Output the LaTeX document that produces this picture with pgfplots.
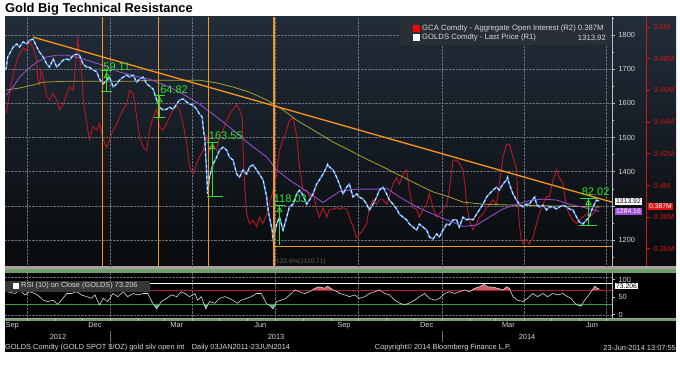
\documentclass[border=0pt]{standalone}
\usepackage{fontspec}
\setmainfont{Liberation Sans}
\usepackage{pgfplots}
\usepackage{pgfplotstable}
\pgfplotsset{compat=1.18}
\definecolor{bgtop}{RGB}{34,45,58}
\definecolor{bgbot}{RGB}{8,10,12}
\definecolor{gridc}{RGB}{105,112,120}
\definecolor{oicol}{RGB}{185,25,35}
\definecolor{pxblue}{RGB}{70,140,225}
\definecolor{pxwhite}{RGB}{230,235,245}
\definecolor{ma1}{RGB}{150,75,200}
\definecolor{ma2}{RGB}{165,160,55}
\definecolor{tlor}{RGB}{245,150,30}
\definecolor{ann}{RGB}{50,225,50}
\definecolor{lbl}{RGB}{215,215,215}
\definecolor{axisgray}{RGB}{190,190,190}
\definecolor{sepgray}{RGB}{170,160,160}
\definecolor{sepgreen}{RGB}{110,160,110}
\definecolor{rsired}{RGB}{170,30,40}
\definecolor{rsigreen}{RGB}{50,160,60}
\definecolor{rsifillg}{RGB}{90,180,120}
\definecolor{rsifillr}{RGB}{200,90,100}
\definecolor{rsiline}{RGB}{215,220,215}
\definecolor{legbg}{RGB}{42,47,55}
\definecolor{rsilegbg}{RGB}{55,55,55}
\definecolor{tagred}{RGB}{225,20,20}
\definecolor{tagpurple}{RGB}{160,80,210}
\definecolor{scalered}{RGB}{210,20,20}
\newcommand{\sm}{\fontsize{7.4}{8.5}\selectfont}
\newcommand{\tgf}{\fontsize{6.8}{7.5}\selectfont}
\newcommand{\legf}{\fontsize{7.7}{8.5}\selectfont}
\newcommand{\lab}{\fontsize{11}{12}\selectfont}
\pgfplotsset{bb/.style={anchor=south west, scale only axis, width=607pt, xmin=-116, xmax=552}}
\pgfplotstableread{
d r
-113 65
-105 60
-100 70
-94 56
-89 65
-83 60
-78 51
-74 41
-69 37
-63 41
-58 29
-54 41
-48 60
-43 60
-37 65
-32 56
-26 51
-21 46
-17 56
-12 27
-8 46
-3 37
3 60
8 51
14 65
19 51
25 60
30 56
36 60
41 60
47 30
51 16
56 37
62 46
67 56
73 51
78 65
82 60
87 51
93 60
96 41
100 51
105 16
109 37
115 32
120 46
126 51
131 46
137 37
140 32
144 41
150 46
155 51
161 60
166 60
172 30
176 25
179 16
183 37
188 41
193 46
199 60
203 70
208 65
214 60
219 65
225 75
230 79
236 75
239 81
245 70
250 65
252 60
258 56
263 51
269 56
274 46
280 51
285 60
291 65
296 70
302 60
307 56
313 41
318 33
324 27
329 33
335 41
340 51
346 60
351 46
357 41
362 46
368 60
373 65
379 60
384 65
390 70
395 65
401 75
406 79
411 86
415 79
421 78
426 75
432 70
436 79
439 75
443 51
448 41
454 37
459 46
465 60
470 51
476 60
481 51
487 60
492 56
498 60
503 51
507 46
511 32
514 27
518 24
521 37
525 51
529 65
533 81
536 75
538 73
}\rsitable
\pgfplotstableread{
d p
-115 1698
-113 1736
-107 1765
-103 1774
-100 1765
-96 1780
-92 1774
-89 1785
-85 1788
-81 1765
-78 1750
-74 1736
-70 1715
-67 1706
-63 1730
-59 1706
-56 1715
-52 1727
-48 1730
-45 1727
-41 1741
-37 1744
-34 1741
-30 1715
-26 1706
-23 1706
-19 1698
-15 1692
-12 1671
-8 1657
-4 1668
-1 1677
3 1648
7 1657
10 1668
14 1677
18 1683
21 1677
25 1683
29 1662
32 1671
36 1677
40 1657
43 1651
47 1642
51 1610
54 1589
58 1581
62 1583
65 1589
69 1583
73 1598
76 1610
80 1613
84 1604
87 1598
91 1595
95 1583
98 1569
101 1560
102 1531
104 1493
106 1393
107 1335
109 1384
113 1422
117 1443
120 1463
124 1472
128 1463
131 1443
135 1434
139 1393
142 1384
146 1405
150 1393
153 1414
157 1420
161 1405
164 1393
168 1376
172 1326
173 1297
175 1267
178 1229
179 1203
183 1247
186 1267
190 1229
194 1267
197 1297
201 1305
205 1335
208 1346
212 1332
216 1305
219 1317
223 1335
227 1364
230 1376
234 1393
238 1414
239 1422
241 1414
245 1405
249 1384
252 1364
256 1335
260 1355
263 1364
267 1326
271 1335
274 1326
278 1320
282 1305
285 1288
289 1305
293 1326
296 1346
300 1355
304 1335
307 1317
311 1305
315 1291
318 1276
322 1267
326 1259
329 1247
333 1238
337 1229
340 1247
344 1238
348 1229
351 1209
355 1203
359 1218
362 1209
366 1229
370 1247
373 1244
377 1259
381 1259
384 1238
388 1267
392 1259
395 1262
399 1259
403 1276
406 1288
410 1305
414 1326
417 1335
421 1346
425 1355
428 1346
432 1364
436 1376
437 1384
439 1364
443 1335
447 1317
450 1305
454 1297
458 1305
461 1305
465 1320
467 1326
469 1305
472 1297
476 1302
480 1288
483 1297
487 1297
491 1291
494 1297
498 1302
502 1297
505 1291
509 1288
513 1267
516 1253
520 1247
524 1259
527 1267
531 1297
535 1317
538 1314
}\pricetable
\begin{document}
\begin{tikzpicture}
\useasboundingbox (0pt,0pt) rectangle (680pt,366pt);
\fill[white] (0pt,0pt) rectangle (680pt,366pt);
\shade[top color=bgtop, bottom color=bgbot] (5pt,100pt) rectangle (676pt,349pt);
\fill[black] (5pt,14pt) rectangle (676pt,100pt);
\fill[sepgray] (5pt,97pt) rectangle (676pt,100pt);
\fill[sepgreen] (5pt,93pt) rectangle (676pt,97pt);
\fill[sepgray] (5pt,47pt) rectangle (676pt,48pt);
\fill[sepgreen] (5pt,45pt) rectangle (676pt,47pt);
\node[anchor=base west, font=\bfseries\fontsize{12.9}{14}\selectfont, inner sep=0pt] at (5pt,353pt) {Gold Big Technical Resistance};

% grid and price scale
\begin{axis}[bb, at={(5pt,100pt)}, height=249pt, ymin=1124, ymax=1853,
  axis y line*=right, axis x line*=bottom, x axis line style={draw=none},
  y axis line style={draw=axisgray, line width=0.6pt},
  xmajorticks=false, xtick={-92,0,90,181,273,365,455,546}, xmajorgrids,
  ytick={1200,1300,...,1800}, yticklabels={1200,,1400,1500,1600,1700,1800},
  minor ytick={1150,1250,...,1850}, ymajorgrids,
  grid style={densely dotted, gridc, line width=0.5pt},
  tick align=outside, major tick length=3pt, minor tick length=2pt,
  ytick style={axisgray, line width=0.6pt},
  yticklabel style={font=\sm, text=lbl}]
\addplot[draw=none] coordinates {(0,1500)};
\end{axis}

% open interest
\begin{axis}[bb, at={(5pt,100pt)}, height=249pt, ymin=349.2, ymax=506.3, hide axis]
\addplot[oicol, line width=0.9pt] coordinates {
(-115,445) (-111,458) (-107,470) (-103,479) (-100,483) (-96,487) (-92,485) (-89,491) (-85,487) (-81,479) (-80,467) (-78,464) (-76,473) (-74,468) (-70,456) (-67,454) (-63,458) (-59,454) (-56,448) (-52,451) (-48,458) (-45,462) (-41,460) (-37,485) (-36,494) (-34,481) (-31,467) (-30,454) (-26,439) (-23,429) (-19,437) (-15,435) (-12,439) (-8,429) (-4,424) (-1,429) (3,435) (7,439) (10,443) (14,448) (18,451) (21,460) (25,458) (29,443) (32,431) (36,424) (40,422) (43,435) (47,443) (51,448) (54,437) (58,435) (62,439) (65,443) (69,448) (73,450) (76,448) (80,439) (84,426) (87,412) (91,407) (95,414) (98,418) (102,422) (106,431) (109,422) (113,426) (117,422) (120,431) (124,435) (128,441) (131,445) (135,448) (139,451) (142,448) (145,443) (146,422) (148,397) (150,382) (153,376) (157,378) (161,374) (164,380) (168,376) (172,382) (175,388) (179,397) (183,407) (186,422) (190,429) (194,435) (197,441) (201,443) (205,431) (208,412) (212,397) (216,397) (219,393) (223,395) (227,385) (230,380) (234,386) (238,380) (241,385) (245,385) (249,386) (252,385) (256,386) (260,385) (263,380) (267,374) (271,367) (274,369) (278,372) (282,376) (285,386) (289,391) (293,388) (296,391) (300,391) (304,388) (307,393) (311,401) (315,405) (318,401) (322,407) (326,410) (329,397) (333,386) (337,385) (340,380) (344,385) (348,388) (351,395) (355,386) (359,380) (362,382) (366,385) (370,388) (373,397) (377,416) (381,416) (384,414) (388,410) (390,401) (392,388) (395,378) (399,372) (403,376) (406,380) (410,382) (414,386) (417,388) (421,391) (425,388) (428,401) (432,418) (436,426) (439,426) (443,418) (447,410) (448,395) (450,376) (452,366) (454,363) (458,366) (461,363) (465,367) (469,376) (472,382) (476,388) (480,393) (483,393) (487,403) (491,410) (494,405) (498,401) (502,386) (505,382) (509,378) (513,376) (516,378) (520,380) (524,382) (527,380) (531,382) (535,386) (538,387)};
\end{axis}

% price, moving averages, annotations
\begin{axis}[bb, at={(5pt,100pt)}, height=249pt, ymin=1124, ymax=1853, hide axis]
\addplot[ma2, line width=0.8pt] coordinates {
(-115,1639) (-100,1645) (-85,1654) (-74,1662) (-48,1665) (-12,1665) (25,1665) (43,1668) (80,1668) (98,1668) (117,1660) (135,1648) (153,1633) (172,1610) (190,1581) (205,1551) (227,1516) (245,1487) (263,1463) (282,1437) (300,1414) (318,1390) (337,1364) (355,1341) (373,1326) (388,1311) (410,1305) (447,1302) (483,1300) (538,1297)};
\addplot[ma1, line width=0.9pt] coordinates {
(-115,1624) (-107,1648) (-100,1677) (-92,1698) (-81,1721) (-70,1736) (-59,1741) (-48,1741) (-34,1733) (-12,1715) (10,1692) (32,1677) (43,1671) (65,1648) (80,1627) (98,1598) (117,1560) (135,1522) (153,1481) (172,1443) (183,1405) (197,1376) (214,1346) (234,1310) (252,1342) (271,1349) (293,1349) (304,1352) (318,1326) (337,1297) (355,1276) (370,1259) (388,1240) (403,1244) (417,1267) (432,1291) (447,1305) (461,1315) (476,1320) (491,1317) (505,1305) (520,1296) (538,1284)};
% price
\addplot[pxblue, line width=1.5pt] table[x=d, y=p] {\pricetable};
\addplot[pxwhite, line width=0.9pt, dash pattern=on 3pt off 2.5pt] table[x=d, y=p] {\pricetable};
% orange verticals
\addplot[tlor, line width=1.2pt] coordinates {(-9,1124) (-9,1853)};
\addplot[tlor, line width=1.2pt] coordinates {(53,1124) (53,1853)};
\addplot[tlor, line width=1.2pt] coordinates {(108,1124) (108,1853)};
\addplot[tlor, line width=1.2pt] coordinates {(180,1124) (180,1853)};
% trend and support
\addplot[tlor, line width=1.3pt] coordinates {(-85,1794) (552,1311)};
\addplot[tlor, line width=1.3pt] coordinates {(180,1182) (552,1182)};
% green range markers
\addplot[ann, line width=1pt] coordinates {(-4,1636) (-4,1695)};
\addplot[ann, line width=1pt] coordinates {(-10,1695) (2,1695)};
\addplot[ann, line width=1pt] coordinates {(-10,1636) (2,1636)};
\addplot[ann, line width=1pt] coordinates {(54,1560) (54,1624)};
\addplot[ann, line width=1pt] coordinates {(48,1624) (60,1624)};
\addplot[ann, line width=1pt] coordinates {(48,1560) (60,1560)};
\addplot[ann, line width=1pt] coordinates {(112,1326) (112,1487)};
\addplot[ann, line width=1pt] coordinates {(106,1487) (118,1487)};
\addplot[ann, line width=1pt] coordinates {(106,1326) (124,1326)};
\addplot[ann, line width=1pt] coordinates {(186,1185) (186,1302)};
\addplot[ann, line width=1pt] coordinates {(180,1302) (192,1302)};
\addplot[ann, line width=1pt] coordinates {(526,1244) (526,1323)};
\addplot[ann, line width=1pt] coordinates {(517,1323) (535,1323)};
\addplot[ann, line width=1pt] coordinates {(516,1244) (535,1244)};
\addplot[ann, only marks, mark=triangle, mark size=3pt, mark options={line width=0.8pt}] coordinates {(-4,1680) (54,1609) (112,1472) (186,1287) (526,1308)};
\node[text=ann, font=\lab, inner sep=0pt] at (axis cs:7,1708) {59.11};
\node[text=ann, font=\lab, inner sep=0pt] at (axis cs:70,1639) {64.82};
\node[text=ann, font=\lab, inner sep=0pt] at (axis cs:127,1504) {163.55};
\node[text=ann, font=\lab, inner sep=0pt] at (axis cs:198,1320) {118.03};
\node[text=ann, font=\lab, inner sep=0pt] at (axis cs:534,1341) {82.02};
\end{axis}

% open interest scale
\begin{axis}[at={(646pt,100pt)}, anchor=south west, scale only axis, width=0.1pt, height=249pt,
  xmin=0, xmax=1, ymin=349.2, ymax=506.3, axis x line=none, axis y line*=right,
  y axis line style={draw=scalered, line width=0.9pt},
  ytick={360,380,...,500}, yticklabels={0.36M,0.38M,0.4M,0.42M,0.44M,0.46M,0.48M,0.5M},
  tick align=outside, major tick length=4pt, ytick style={scalered, line width=0.9pt},
  yticklabel style={font=\sm, text=scalered}]
\addplot[draw=none] coordinates {(0,400)};
\end{axis}

% RSI panel
\begin{axis}[bb, at={(5pt,48pt)}, height=45pt, ymin=-10, ymax=118.6,
  axis y line*=right, axis x line*=bottom, x axis line style={draw=none},
  y axis line style={draw=axisgray, line width=0.6pt},
  xtick={-92,0,90,181,273,365,455,546}, xticklabels={}, xmajorgrids,
  minor xtick={-61,-31,31,59,120,151,212,243,304,334,396,424,485,516},
  grid style={densely dotted, gridc, line width=0.5pt},
  tick align=outside, major tick length=3pt, minor tick length=3pt,
  tick style={axisgray, line width=0.6pt},
  extra x ticks={-108,-17,73,165,257,348,438,530},
  extra x tick labels={Sep,Dec,Mar,Jun,Sep,Dec,Mar,Jun},
  extra x tick style={grid=none, major tick length=0pt},
  xticklabel style={font=\sm, text=lbl, yshift=-1pt},
  ytick={0,50,100}, yticklabels={0,50,100}, yticklabel style={font=\sm, text=lbl}]
% oversold / overbought areas (RSI beyond 30 / 70)
\addplot[fill=rsifillg, draw=none] coordinates {(-58.4,30) (-58,29) (-57.7,30)};
\addplot[fill=rsifillg, draw=none] coordinates {(-12.5,30) (-12,27) (-11.4,30)};
\addplot[fill=rsifillg, draw=none] coordinates {(47,30) (51,16) (54.3,30)};
\addplot[fill=rsifillg, draw=none] coordinates {(103,30) (105,16) (107.7,30)};
\addplot[fill=rsifillg, draw=none] coordinates {(172,30) (176,25) (179,16) (181.7,30)};
\addplot[fill=rsifillg, draw=none] coordinates {(321,30) (324,27) (326.5,30)};
\addplot[fill=rsifillg, draw=none] coordinates {(512.2,30) (514,27) (518,24) (519.4,30)};
\addplot[fill=rsifillr, draw=none] coordinates {(222,70) (225,75) (230,79) (236,75) (239,81) (245,70)};
\addplot[fill=rsifillr, draw=none] coordinates {(398,70) (401,75) (406,79) (411,86) (415,79) (421,78) (426,75) (432,70) (436,79) (439,75) (439.8,70)};
\addplot[fill=rsifillr, draw=none] coordinates {(530.3,70) (533,81) (536,75) (538,73) (538,70)};
\addplot[rsigreen, line width=0.8pt] coordinates {(-116,30) (552,30)};
\addplot[rsired, line width=0.8pt] coordinates {(-116,70) (552,70)};
\addplot[gridc, densely dotted] coordinates {(-116,108) (552,108)};
\addplot[gridc, densely dotted] coordinates {(-116,-2) (552,-2)};
\addplot[white, line width=0.8pt] coordinates {(43,90) (552,90)};
\addplot[rsiline, line width=0.6pt] table[x=d, y=r] {\rsitable};
\end{axis}

% legends and tags
\fill[legbg] (400pt,321pt) rectangle (611pt,349pt);
\fill[red] (413pt,334pt) rectangle (420pt,341pt);
\fill[white] (413pt,325pt) rectangle (420pt,332pt);
\node[anchor=west, font=\legf, text=lbl, inner sep=0pt] at (422pt,337.5pt) {GCA Comdty - Aggregate Open Interest (R2) 0.387M};
\node[anchor=west, font=\legf, text=lbl, inner sep=0pt] at (422pt,328.5pt) {GOLDS Comdty - Last Price (R1)};
\node[anchor=east, font=\legf, text=lbl, inner sep=0pt] at (606pt,328.5pt) {1313.92};
\node[fill=white, text=black, font=\tgf, inner sep=1pt, anchor=west] at (615pt,164.5pt) {1313.92};
\node[fill=tagpurple, text=white, font=\tgf, inner sep=1pt, anchor=west] at (615pt,154.5pt) {1284.16};
\node[fill=tagred, text=white, font=\tgf, inner sep=1pt, anchor=west] at (648pt,159.5pt) {0.387M};
\node[fill=white, text=black, font=\tgf, inner sep=1pt, anchor=west] at (615pt,80pt) {73.206};
\fill[rsilegbg] (5pt,74pt) rectangle (150pt,85pt);
\fill[white] (13pt,77pt) rectangle (19pt,83pt);
\node[anchor=west, font=\sm, text=lbl, inner sep=0pt] at (21pt,80pt) {RSI (10) on Close (GOLDS) 73.206};
\node[anchor=west, font=\fontsize{6.5}{7}\selectfont, text={rgb,255:red,95;green,95;blue,95}, inner sep=0pt] at (276pt,104pt) {123.6\%(1120.71)};
\node[font=\sm, text=lbl] at (58pt,29pt) {2012};
\node[font=\sm, text=lbl] at (276pt,29pt) {2013};
\node[font=\sm, text=lbl] at (527pt,29pt) {2014};
\draw[gridc] (110.6pt,35pt) -- (110.6pt,24pt);
\draw[gridc] (442.4pt,35pt) -- (442.4pt,24pt);
\node[anchor=west, font=\sm, text=lbl, inner sep=0pt] at (5pt,18pt) {GOLDS Comdty (GOLD SPOT \$/OZ) gold silv open int\quad Daily 03JAN2011-23JUN2014};
\node[font=\sm, text=lbl, inner sep=0pt] at (443pt,18pt) {Copyright\textcopyright{} 2014 Bloomberg Finance L.P.};
\node[anchor=east, font=\sm, text=lbl, inner sep=0pt] at (676pt,18pt) {23-Jun-2014 13:07:55};
\end{tikzpicture}
\end{document}
